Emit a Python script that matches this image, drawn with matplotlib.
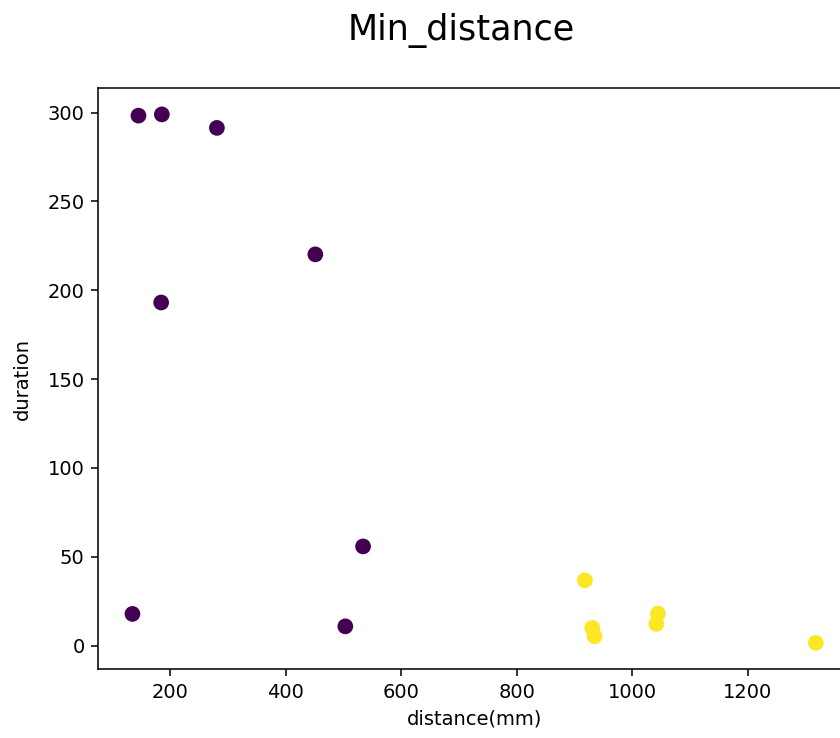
import numpy as np
import matplotlib
matplotlib.use('Agg')
import matplotlib.pyplot as plt

# Min distance (mm) vs duration, coloured by cluster label
distance = [145.1, 185.6, 280.9, 451.3, 184.4, 533.9, 503.2, 134.7,
            917.9, 930.7, 934.7, 1044.4, 1041.6, 1317.7]
duration = [298.3, 299.0, 291.4, 220.2, 193.1, 55.8, 10.8, 17.8,
            36.7, 9.9, 5.2, 18.0, 12.2, 1.5]
label = [0, 0, 0, 0, 0, 0, 0, 0,
         1, 1, 1, 1, 1, 1]

fig = plt.figure(figsize=(6, 738 / 140), dpi=140)
ax = fig.add_axes([0.1170, 0.0931, 0.8949, 0.7877])

ax.scatter(distance, duration, c=label, cmap='viridis', s=50)

ax.set_xlabel('distance(mm)')
ax.set_ylabel('duration', labelpad=8)
fig.text(461 / 840, 1 - 39.5 / 738, 'Min_distance', fontsize=18,
         ha='center', va='baseline')

fig.savefig('out.png', dpi=140)
